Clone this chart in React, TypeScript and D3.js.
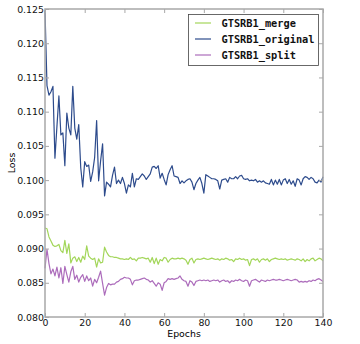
import React, { useEffect, useRef } from 'react';
import * as d3 from 'd3';

// loss per epoch (epochs 0..140)
const original = [
  0.1248, 0.1138, 0.1124, 0.1129, 0.1137, 0.1032, 0.1078, 0.1123, 0.1066, 0.1069,
  0.1021, 0.1098, 0.1076, 0.1066, 0.1137, 0.1076, 0.1060, 0.1081, 0.1018, 0.0990,
  0.1027, 0.1020, 0.1022, 0.0998, 0.1012, 0.1033, 0.1087, 0.0999, 0.1028, 0.1053,
  0.0977, 0.0997, 0.0994, 0.0990, 0.1007, 0.1019, 0.0995, 0.1000, 0.0995, 0.1004,
  0.0995, 0.0981, 0.0993, 0.0990, 0.1010, 0.0990, 0.1002, 0.1001, 0.1005, 0.1009,
  0.1006, 0.1001, 0.1005, 0.1009, 0.1019, 0.1020, 0.1017, 0.1021, 0.1003, 0.1010,
  0.1001, 0.0993, 0.1008, 0.1015, 0.1021, 0.1006, 0.1005, 0.1004, 0.0995, 0.0999,
  0.0996, 0.0999, 0.1001, 0.1002, 0.0997, 0.0986, 0.0995, 0.1000, 0.1004, 0.0995,
  0.0981, 0.1008, 0.1006, 0.1004, 0.1002, 0.1002, 0.1001, 0.0999, 0.0987, 0.1000,
  0.1001, 0.1002, 0.0997, 0.1004, 0.1002, 0.1002, 0.1005, 0.1002, 0.1006, 0.1007,
  0.1002, 0.1001, 0.1002, 0.0999, 0.1000, 0.0999, 0.1001, 0.0997, 0.0999, 0.0997,
  0.0999, 0.0996, 0.0995, 0.0994, 0.1001, 0.0993, 0.1000, 0.0994, 0.1001, 0.0993,
  0.1000, 0.1002, 0.0995, 0.1001, 0.0994, 0.0999, 0.0991, 0.1002, 0.1000, 0.0993,
  0.1002, 0.1005, 0.1004, 0.1001, 0.1004, 0.1002, 0.0997, 0.0996, 0.1000, 0.0997,
  0.1005,
];

const merge = [
  0.0930, 0.0929, 0.0917, 0.0911, 0.0905, 0.0903, 0.0904, 0.0906, 0.0897, 0.0894,
  0.0912, 0.0893, 0.0907, 0.0879, 0.0886, 0.0888, 0.0881, 0.0887, 0.0880, 0.0889,
  0.0884, 0.0904, 0.0889, 0.0886, 0.0884, 0.0886, 0.0873, 0.0885, 0.0879, 0.0880,
  0.0902, 0.0895, 0.0890, 0.0888, 0.0888, 0.0887, 0.0887, 0.0886, 0.0885, 0.0885,
  0.0884, 0.0885, 0.0884, 0.0887, 0.0884, 0.0885, 0.0882, 0.0886, 0.0886, 0.0887,
  0.0886, 0.0885, 0.0886, 0.0880, 0.0887, 0.0878, 0.0886, 0.0877, 0.0884, 0.0882,
  0.0887, 0.0886, 0.0880, 0.0884, 0.0886, 0.0885, 0.0885, 0.0886, 0.0885, 0.0886,
  0.0885, 0.0883, 0.0877, 0.0884, 0.0886, 0.0879, 0.0884, 0.0885, 0.0884, 0.0885,
  0.0886, 0.0885, 0.0884, 0.0885, 0.0886, 0.0885, 0.0884, 0.0885, 0.0883, 0.0885,
  0.0884, 0.0886, 0.0885, 0.0883, 0.0884, 0.0881, 0.0885, 0.0884, 0.0886, 0.0884,
  0.0885, 0.0883, 0.0884, 0.0875, 0.0884, 0.0885, 0.0883, 0.0885, 0.0880, 0.0884,
  0.0885, 0.0883, 0.0885, 0.0881, 0.0884, 0.0885, 0.0886, 0.0885, 0.0884, 0.0885,
  0.0884, 0.0885, 0.0883, 0.0884, 0.0885, 0.0884, 0.0883, 0.0885, 0.0884, 0.0882,
  0.0885, 0.0881, 0.0884, 0.0882, 0.0885, 0.0886, 0.0882, 0.0884, 0.0886, 0.0885,
  0.0882,
];

const split = [
  0.0871, 0.0899, 0.0878, 0.0863, 0.0870, 0.0860, 0.0873, 0.0857, 0.0872, 0.0849,
  0.0874, 0.0862, 0.0851, 0.0866, 0.0874, 0.0855, 0.0861, 0.0851, 0.0858, 0.0862,
  0.0852, 0.0860, 0.0853, 0.0857, 0.0845, 0.0855, 0.0850, 0.0858, 0.0867, 0.0849,
  0.0832, 0.0843, 0.0849, 0.0847, 0.0848, 0.0848, 0.0851, 0.0852, 0.0855, 0.0856,
  0.0858, 0.0857, 0.0857, 0.0855, 0.0847, 0.0853, 0.0854, 0.0854, 0.0855, 0.0856,
  0.0857, 0.0855, 0.0854, 0.0851, 0.0853, 0.0849, 0.0845, 0.0850, 0.0848, 0.0839,
  0.0850, 0.0852, 0.0856, 0.0855, 0.0856, 0.0855, 0.0856, 0.0857, 0.0860, 0.0855,
  0.0853, 0.0852, 0.0845, 0.0853, 0.0851, 0.0846, 0.0852, 0.0853, 0.0854, 0.0853,
  0.0854, 0.0853, 0.0854, 0.0852, 0.0853, 0.0854, 0.0853, 0.0854, 0.0851, 0.0853,
  0.0854, 0.0852, 0.0853, 0.0850, 0.0853, 0.0852, 0.0854, 0.0853, 0.0855, 0.0853,
  0.0852, 0.0854, 0.0853, 0.0845, 0.0853, 0.0854, 0.0855, 0.0853, 0.0851, 0.0854,
  0.0853, 0.0852, 0.0854, 0.0853, 0.0854, 0.0855, 0.0854, 0.0854, 0.0855, 0.0854,
  0.0853, 0.0854, 0.0855, 0.0854, 0.0853, 0.0854, 0.0855, 0.0854, 0.0851, 0.0852,
  0.0851, 0.0852, 0.0851, 0.0853, 0.0852, 0.0854, 0.0853, 0.0855, 0.0856, 0.0854,
  0.0852,
];

const seriesNames = ['GTSRB1_merge', 'GTSRB1_original', 'GTSRB1_split'];
const seriesColors = ['#a3d65a', '#2d4b8c', '#ac6cbb'];
const xTicks = [0, 20, 40, 60, 80, 100, 120, 140];
const yTicks = [0.08, 0.085, 0.09, 0.095, 0.1, 0.105, 0.11, 0.115, 0.12, 0.125];

const W = 360, H = 344;
const left = 45, right = 323, top = 9, bottom = 317;

export default function App() {
  const svgRef = useRef<SVGSVGElement>(null);

  useEffect(() => {
    const svg = d3.select(svgRef.current);
    svg.selectAll('*').remove();

    const x = d3.scaleLinear().domain([0, 140]).range([left, right]);
    const y = d3.scaleLinear().domain([0.08, 0.125]).range([bottom, top]);
    const spine = '#a8a8a8';
    const font = '"DejaVu Sans", sans-serif';

    // lines (drawn in the order merge, original, split)
    const allSeries = [merge, original, split];
    const line = d3.line<number>()
      .x((_, i) => x(i))
      .y(d => y(d));
    allSeries.forEach((s, i) => {
      svg.append('path')
        .datum(s)
        .attr('fill', 'none')
        .attr('stroke', seriesColors[i])
        .attr('stroke-width', 1.2)
        .attr('stroke-linejoin', 'round')
        .attr('d', line);
    });

    // axes with inward ticks
    const styleAxis = (g: any) => {
      g.select('.domain').remove();
      g.selectAll('line').attr('stroke', spine);
      g.selectAll('text').attr('fill', '#111').style('font-family', font).style('font-size', '9.4px');
    };

    svg.append('g')
      .attr('transform', `translate(0,${bottom})`)
      .call(d3.axisBottom(x).tickValues(xTicks).tickSizeInner(-4).tickSizeOuter(0).tickPadding(2).tickFormat(d3.format('d')))
      .call(styleAxis);
    svg.append('g')
      .attr('transform', `translate(0,${top})`)
      .call(d3.axisTop(x).tickValues(xTicks).tickSizeInner(-4).tickSizeOuter(0).tickFormat(() => ''))
      .call(styleAxis);
    svg.append('g')
      .attr('transform', `translate(${left},0)`)
      .call(d3.axisLeft(y).tickValues(yTicks).tickSizeInner(-4).tickSizeOuter(0).tickPadding(1).tickFormat(d3.format('.3f')))
      .call(styleAxis);
    svg.append('g')
      .attr('transform', `translate(${right},0)`)
      .call(d3.axisRight(y).tickValues(yTicks).tickSizeInner(-4).tickSizeOuter(0).tickFormat(() => ''))
      .call(styleAxis);

    // frame
    svg.append('rect')
      .attr('x', left).attr('y', top)
      .attr('width', right - left).attr('height', bottom - top)
      .attr('fill', 'none').attr('stroke', spine).attr('stroke-width', 1.5);

    // axis titles
    svg.append('text')
      .attr('x', (left + right) / 2).attr('y', 337)
      .attr('text-anchor', 'middle')
      .style('font-family', font).style('font-size', '9.4px')
      .text('Epochs');
    svg.append('text')
      .attr('transform', `translate(15,${(top + bottom) / 2}) rotate(-90)`)
      .attr('text-anchor', 'middle')
      .style('font-family', font).style('font-size', '9.4px')
      .text('Loss');

    // legend
    const lg = svg.append('g');
    lg.append('rect')
      .attr('x', 188.5).attr('y', 14.5).attr('width', 130).attr('height', 51)
      .attr('fill', 'white').attr('stroke', '#444').attr('stroke-width', 0.8);
    seriesNames.forEach((name, i) => {
      const ly = 23 + i * 16;
      lg.append('line')
        .attr('x1', 195).attr('x2', 211).attr('y1', ly).attr('y2', ly)
        .attr('stroke', seriesColors[i]).attr('stroke-width', 1.2);
      lg.append('text')
        .attr('x', 221.5).attr('y', ly).attr('dy', '0.35em')
        .style('font-family', '"DejaVu Sans Mono", monospace')
        .style('font-weight', 'bold').style('font-size', '10.3px')
        .attr('fill', '#111')
        .text(name);
    });
  }, []);

  return (
    <div style={{ position: 'absolute', left: 0, top: 0 }}>
      <svg ref={svgRef} width={W} height={H} style={{ display: 'block', background: 'white' }} />
    </div>
  );
}
